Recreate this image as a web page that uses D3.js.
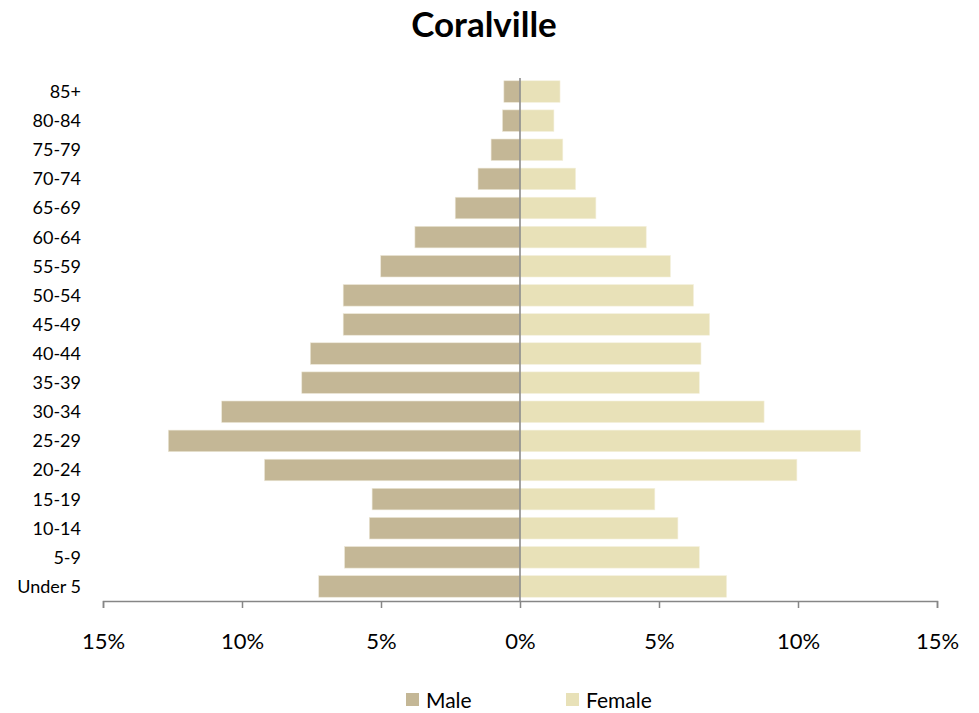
<!DOCTYPE html>
<html>
<head>
<meta charset="utf-8">
<script src="https://cdn.jsdelivr.net/npm/d3@7"></script>
<style>
  body { margin: 0; background: #fff; }
  text { font-family: Lato, "Open Sans", sans-serif; fill: #000; }
</style>
</head>
<body>
<div id="chart"></div>
<script>
// age groups, top to bottom
var ageGroups = ["85+", "80-84", "75-79", "70-74", "65-69", "60-64", "55-59", "50-54", "45-49",
                 "40-44", "35-39", "30-34", "25-29", "20-24", "15-19", "10-14", "5-9", "Under 5"];
// percent of population
var maleValues = [0.58, 0.63, 1.04, 1.51, 2.33, 3.78, 5.01, 6.36, 6.36,
                  7.54, 7.85, 10.73, 12.65, 9.19, 5.32, 5.42, 6.31, 7.24];
var femaleValues = [1.44, 1.22, 1.54, 2.00, 2.73, 4.54, 5.41, 6.24, 6.82,
                    6.51, 6.45, 8.78, 12.25, 9.96, 4.85, 5.68, 6.45, 7.43];
var tickValues = [-15, -10, -5, 0, 5, 10, 15];
var seriesNames = ["Male", "Female"];
var seriesColors = ["#C4B796", "#E8E1B8"];

var width = 979, height = 713;
var margin = {top: 77, right: 42, bottom: 112, left: 103};

var svg = d3.select("#chart").append("svg")
    .attr("width", width)
    .attr("height", height);

var x = d3.scaleLinear()
    .domain([-15, 15])
    .range([margin.left, width - margin.right]);

var y = d3.scaleBand()
    .domain(ageGroups)
    .range([margin.top, height - margin.bottom])
    .paddingInner(0.26)
    .paddingOuter(0.13);

// title
svg.append("text")
    .attr("x", 484)
    .attr("y", 37)
    .attr("text-anchor", "middle")
    .style("font-size", "35px")
    .style("font-weight", "bold")
    .text("Coralville");

// male bars (to the left)
svg.selectAll("rect.male")
    .data(ageGroups)
  .enter().append("rect")
    .attr("class", "male")
    .attr("x", function(d, i) { return x(-maleValues[i]); })
    .attr("y", function(d) { return y(d); })
    .attr("width", function(d, i) { return x(0) - x(-maleValues[i]); })
    .attr("height", y.bandwidth())
    .attr("fill", seriesColors[0])
    .attr("stroke", "#ece6d6")
    .attr("stroke-width", 0.6);

// female bars (to the right)
svg.selectAll("rect.female")
    .data(ageGroups)
  .enter().append("rect")
    .attr("class", "female")
    .attr("x", x(0))
    .attr("y", function(d) { return y(d); })
    .attr("width", function(d, i) { return x(femaleValues[i]) - x(0); })
    .attr("height", y.bandwidth())
    .attr("fill", seriesColors[1])
    .attr("stroke", "#f4f0dc")
    .attr("stroke-width", 0.6);

// category labels
svg.selectAll("text.age")
    .data(ageGroups)
  .enter().append("text")
    .attr("class", "age")
    .attr("x", 81)
    .attr("y", function(d) { return y(d) + y.bandwidth() / 2; })
    .attr("dy", "0.36em")
    .attr("text-anchor", "end")
    .style("font-size", "18px")
    .text(function(d) { return d; });

// zero line
svg.append("line")
    .attr("x1", x(0)).attr("x2", x(0))
    .attr("y1", margin.top + 1)
    .attr("y2", height - margin.bottom)
    .attr("stroke", "#868686")
    .attr("stroke-width", 1.5);

// x axis
var xAxis = d3.axisBottom(x)
    .tickValues(tickValues)
    .tickSize(7)
    .tickPadding(25)
    .tickFormat(function(d) { return Math.abs(d) + "%"; });

var gx = svg.append("g")
    .attr("transform", "translate(0," + (height - margin.bottom) + ")")
    .call(xAxis);
gx.select(".domain").attr("stroke", "#868686").attr("stroke-width", 1.5);
gx.selectAll(".tick line").attr("stroke", "#868686").attr("stroke-width", 1.5);
gx.selectAll(".tick text").style("font-size", "22px").style("font-family", "Lato, sans-serif");

// legend
var legendX = [406, 566];
var legend = svg.selectAll("g.legend")
    .data(seriesNames)
  .enter().append("g")
    .attr("class", "legend")
    .attr("transform", function(d, i) { return "translate(" + legendX[i] + ",693)"; });
legend.append("rect")
    .attr("width", 13)
    .attr("height", 13)
    .attr("fill", function(d, i) { return seriesColors[i]; });
legend.append("text")
    .attr("x", 20)
    .attr("y", 7)
    .attr("dy", "0.36em")
    .style("font-size", "21px")
    .text(function(d) { return d; });
</script>
</body>
</html>
